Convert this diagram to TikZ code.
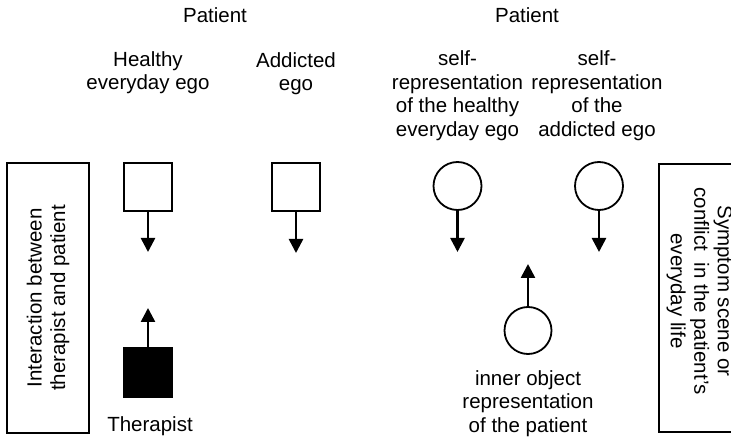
\documentclass[tikz,border=0pt]{standalone}
\usepackage{fontspec}
\setmainfont{Liberation Sans}
\usetikzlibrary{arrows.meta}
\begin{document}
\begin{tikzpicture}[x=1pt,y=-1pt,
  every node/.style={font=\fontsize{20.5}{23.5}\selectfont, inner sep=0pt},
  % multi-line labels are placed by the baseline of their last line
  lbl/.style={align=center, anchor=base},
  ego/.style={draw, line width=2pt, minimum size=48pt},
  rep/.style={draw, circle, line width=1.8pt, minimum size=48pt},
  frame/.style={draw, line width=2pt},
  link/.style={line width=2.6pt, -{Triangle[length=14pt,width=14pt]}}]
\useasboundingbox (0,0) rectangle (731,438);

% group headings
\node[lbl] (pat1) at (215,23) {Patient};
\node[lbl] (pat2) at (527,23) {Patient};

% ego states of the patient
\node[lbl] (thealthy) at (148,90) {Healthy\\everyday ego};
\node[lbl] (taddict) at (296,91) {Addicted\\ego};
\node[ego] (healthy) at (148,187) {};
\node[ego] (addict) at (296,187) {};

% self-representations
\node[lbl] (tself1) at (457.5,136.5) {self-\\representation\\of the healthy\\everyday ego};
\node[lbl] (tself2) at (597,136.5) {self-\\representation\\of the\\addicted ego};
\node[rep] (self1) at (457.5,186) {};
\node[rep] (self2) at (599,186) {};

% therapist and inner object
\node[ego, fill=black] (therapist) at (148,372.5) {};
\node[lbl] (ttherapist) at (150,431) {Therapist};
\node[rep, minimum size=47pt] (inner) at (528,330.5) {};
\node[lbl] (tinner) at (528,432) {inner object\\representation\\of the patient};

% arrow end points
\coordinate (e1) at (148,252);
\coordinate (e2) at (296,253);
\coordinate (e3) at (457.5,252);
\coordinate (e4) at (599,252);
\coordinate (e5) at (528,264);
\coordinate (e6) at (148,308);

\draw[link] (healthy.south) -- (e1);
\draw[link] (addict.south) -- (e2);
\draw[link] (self1.south) -- (e3);
\draw[link] (self2.south) -- (e4);
\draw[link] (inner.north) -- (e5);
\draw[link] (therapist.north) -- (e6);

% side frames
\node[frame, minimum width=82pt, minimum height=270pt] (left) at (48,298) {};
\node[rotate=90, align=center] (tleft) at (48,298)
  {Interaction between\\therapist and patient};
\node[frame, minimum width=81pt, minimum height=268pt] (right) at (699.5,298) {};
\node[rotate=-90, align=center] (tright) at (699.5,291)
  {Symptom scene or\\conflict~~in the patient's\\everyday life};
\end{tikzpicture}
\end{document}
